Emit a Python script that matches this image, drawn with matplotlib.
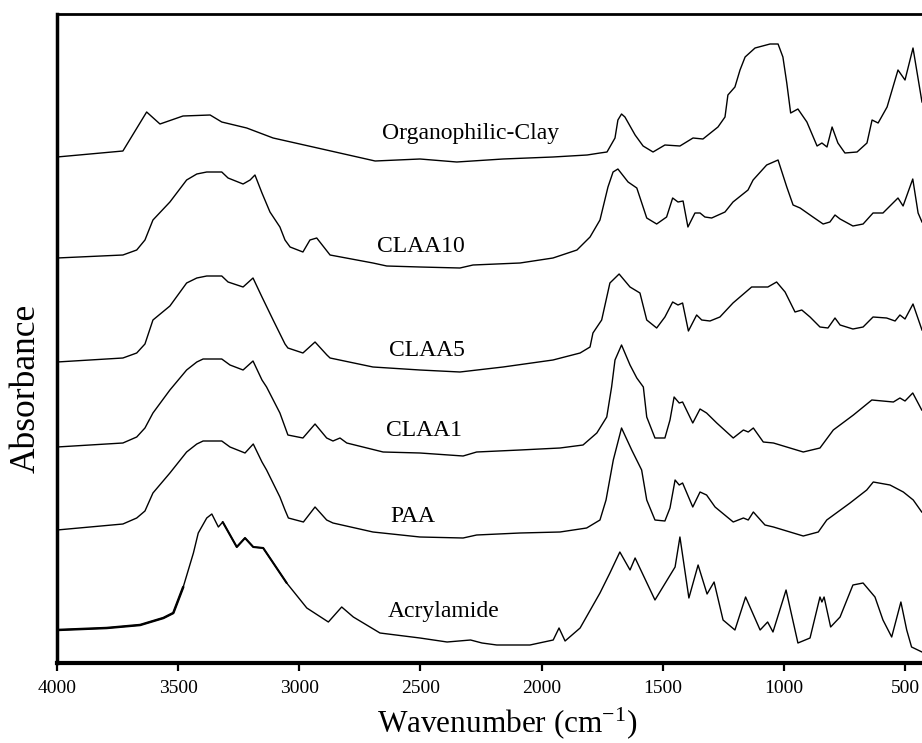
import matplotlib
matplotlib.use("Agg")
import matplotlib.pyplot as plt

plt.rcParams['font.family'] = ['Liberation Serif', 'DejaVu Serif']
plt.rcParams['mathtext.fontset'] = 'custom'
plt.rcParams['mathtext.rm'] = 'Liberation Serif'
plt.rcParams['mathtext.it'] = 'Liberation Serif:italic'

# ---------------- data (wavenumber cm^-1, absorbance a.u., stacked) ----------------
organo_wn = [4000, 3728, 3630, 3575, 3480, 3368, 3320, 3217, 3108, 2943, 2687, 2502, 2350, 2159,
             1953, 1812, 1759, 1730, 1697, 1685, 1670, 1656, 1614, 1581, 1540, 1491, 1429, 1375,
             1334, 1272, 1243, 1231, 1202, 1181, 1160, 1119, 1057, 1024, 1004, 988, 972, 942, 905,
             863, 843, 822, 801, 777, 748, 698, 657, 636, 611, 574, 529, 500, 467, 430]
organo_a = [5.06, 5.12, 5.51, 5.39, 5.47, 5.48, 5.41, 5.35, 5.25, 5.16, 5.02, 5.04, 5.01, 5.04,
            5.06, 5.08, 5.10, 5.11, 5.25, 5.43, 5.49, 5.46, 5.28, 5.17, 5.11, 5.18, 5.17, 5.25,
            5.24, 5.36, 5.46, 5.68, 5.76, 5.93, 6.06, 6.15, 6.19, 6.19, 6.06, 5.80, 5.50, 5.54, 5.41,
            5.17, 5.20, 5.16, 5.36, 5.20, 5.10, 5.11, 5.20, 5.43, 5.40, 5.56, 5.93, 5.83, 6.15, 5.61]

claa10_wn = [4000, 3728, 3671, 3637, 3604, 3534, 3465, 3423, 3382, 3320, 3294, 3232, 3203, 3183,
             3154, 3121, 3080, 3059, 3038, 2985, 2956, 2928, 2873, 2696, 2639, 2502, 2337, 2283,
             2089, 1953, 1854, 1800, 1759, 1726, 1705, 1685, 1643, 1607, 1566, 1525, 1484, 1459,
             1437, 1416, 1396, 1367, 1346, 1326, 1298, 1243, 1210, 1148, 1127, 1071, 1024, 988,
             962, 933, 880, 838, 810, 789, 768, 715, 673, 632, 591, 529, 508, 468, 446, 430]
claa10_a = [4.05, 4.08, 4.13, 4.23, 4.43, 4.61, 4.83, 4.89, 4.91, 4.91, 4.85, 4.79, 4.83, 4.88,
            4.70, 4.51, 4.36, 4.23, 4.16, 4.11, 4.23, 4.25, 4.08, 4.00, 3.97, 3.96, 3.95, 3.98,
            4.00, 4.05, 4.13, 4.26, 4.43, 4.76, 4.91, 4.94, 4.81, 4.75, 4.45, 4.39, 4.46, 4.65,
            4.61, 4.62, 4.36, 4.50, 4.50, 4.46, 4.45, 4.51, 4.61, 4.73, 4.83, 4.98, 5.03, 4.76,
            4.58, 4.55, 4.46, 4.39, 4.41, 4.48, 4.44, 4.37, 4.39, 4.50, 4.50, 4.65, 4.57, 4.84, 4.50, 4.41]

claa5_wn = [4000, 3728, 3671, 3637, 3604, 3534, 3465, 3423, 3382, 3320, 3294, 3232, 3191, 3154,
            3108, 3059, 3047, 2985, 2935, 2886, 2873, 2696, 2502, 2337, 2159, 1953, 1841, 1800,
            1788, 1752, 1718, 1680, 1635, 1594, 1566, 1525, 1491, 1459, 1437, 1418, 1394, 1360,
            1339, 1305, 1264, 1210, 1133, 1066, 1030, 995, 954, 926, 892, 851, 818, 789, 768, 715,
            673, 632, 576, 541, 521, 500, 467, 430]
claa5_a = [3.01, 3.05, 3.10, 3.19, 3.43, 3.57, 3.80, 3.85, 3.87, 3.87, 3.81, 3.76, 3.85, 3.66,
           3.43, 3.19, 3.15, 3.10, 3.21, 3.08, 3.05, 2.96, 2.93, 2.91, 2.96, 3.03, 3.10, 3.16,
           3.30, 3.43, 3.80, 3.89, 3.76, 3.70, 3.43, 3.35, 3.46, 3.61, 3.58, 3.60, 3.32, 3.48,
           3.43, 3.42, 3.46, 3.60, 3.76, 3.76, 3.81, 3.71, 3.51, 3.53, 3.46, 3.36, 3.35, 3.45, 3.38, 3.34,
           3.36, 3.46, 3.45, 3.42, 3.48, 3.44, 3.59, 3.33]

claa1_wn = [4000, 3728, 3671, 3637, 3604, 3534, 3465, 3423, 3397, 3320, 3286, 3232, 3191, 3154,
            3135, 3080, 3059, 3047, 2985, 2935, 2887, 2861, 2832, 2804, 2654, 2502, 2324, 2268,
            2089, 1924, 1829, 1772, 1731, 1711, 1697, 1670, 1635, 1607, 1580, 1566, 1532, 1491,
            1470, 1453, 1432, 1418, 1376, 1346, 1319, 1277, 1209, 1167, 1147, 1126, 1085, 1043,
            920, 851, 796, 713, 637, 548, 521, 500, 468, 431]
claa1_a = [2.16, 2.20, 2.26, 2.35, 2.50, 2.73, 2.93, 3.01, 3.04, 3.04, 2.98, 2.93, 3.02, 2.83,
           2.76, 2.50, 2.36, 2.28, 2.25, 2.39, 2.25, 2.22, 2.25, 2.20, 2.11, 2.10, 2.07, 2.11,
           2.13, 2.15, 2.18, 2.30, 2.46, 2.76, 3.03, 3.18, 2.98, 2.85, 2.76, 2.46, 2.25, 2.25,
           2.43, 2.66, 2.60, 2.61, 2.40, 2.54, 2.50, 2.40, 2.25, 2.33, 2.31, 2.35, 2.21, 2.20,
           2.11, 2.15, 2.33, 2.48, 2.63, 2.61, 2.65, 2.62, 2.70, 2.53]

paa_wn = [4000, 3728, 3671, 3637, 3604, 3534, 3465, 3423, 3397, 3320, 3286, 3224, 3190, 3154,
          3135, 3080, 3059, 3045, 2983, 2935, 2887, 2861, 2696, 2502, 2324, 2268, 2089, 1924,
          1814, 1759, 1734, 1704, 1670, 1628, 1587, 1566, 1532, 1491, 1470, 1449, 1432, 1418,
          1376, 1346, 1319, 1284, 1209, 1167, 1147, 1126, 1078, 1043, 920, 858, 823, 727, 658,
          631, 562, 507, 466, 431]
paa_a = [1.33, 1.39, 1.45, 1.52, 1.70, 1.90, 2.11, 2.19, 2.22, 2.22, 2.16, 2.10, 2.19, 2.01,
         1.93, 1.66, 1.53, 1.45, 1.41, 1.56, 1.43, 1.40, 1.31, 1.26, 1.25, 1.28, 1.30, 1.31,
         1.35, 1.43, 1.63, 2.03, 2.35, 2.13, 1.93, 1.63, 1.43, 1.42, 1.55, 1.83, 1.78, 1.80,
         1.56, 1.71, 1.68, 1.56, 1.41, 1.45, 1.43, 1.51, 1.38, 1.36, 1.27, 1.31, 1.43, 1.60, 1.73,
         1.81, 1.78, 1.71, 1.63, 1.51]

acryl_wn = [4000, 3795, 3657, 3561, 3520, 3479, 3437, 3417, 3382, 3361, 3334, 3316, 3258, 3224,
            3190, 3149, 3052, 2969, 2880, 2825, 2777, 2667, 2502, 2390, 2293, 2246, 2185, 2048,
            1952, 1928, 1903, 1841, 1759, 1718, 1677, 1635, 1614, 1532, 1449, 1429, 1392, 1354,
            1317, 1288, 1251, 1202, 1158, 1098, 1067, 1045, 991, 942, 892, 851, 843, 834, 807,
            768, 715, 673, 624, 591, 555, 517, 493, 473, 430]
acryl_a = [0.33, 0.35, 0.38, 0.45, 0.50, 0.76, 1.10, 1.30, 1.45, 1.49, 1.36, 1.41, 1.16, 1.25,
           1.16, 1.15, 0.80, 0.55, 0.41, 0.56, 0.46, 0.30, 0.25, 0.21, 0.23, 0.20, 0.18, 0.18,
           0.23, 0.35, 0.22, 0.35, 0.70, 0.90, 1.11, 0.93, 1.05, 0.63, 0.96, 1.26, 0.65, 0.98,
           0.69, 0.81, 0.43, 0.33, 0.66, 0.33, 0.41, 0.31, 0.73, 0.20, 0.25, 0.66, 0.61, 0.66, 0.36,
           0.46, 0.78, 0.80, 0.66, 0.43, 0.26, 0.61, 0.33, 0.16, 0.11]

labels = ["Organophilic-Clay", "CLAA10", "CLAA5", "CLAA1", "PAA", "Acrylamide"]
label_wn = [2295, 2498, 2473, 2485, 2531, 2403]
label_a = [5.30, 4.17, 3.12, 2.33, 1.46, 0.51]

xticks = [4000, 3500, 3000, 2500, 2000, 1500, 1000, 500]

# ---------------- figure ----------------
W, H = 922, 743
fig = plt.figure(figsize=(W / 100, H / 100), dpi=100)
ax_left = 57 / W
ax_bottom = (H - 663) / H
ax_top = (H - 14) / H
ax_w = (922 - 57) / W
ax = fig.add_axes([ax_left, ax_bottom, ax_w, ax_top - ax_bottom])

series = [(organo_wn, organo_a), (claa10_wn, claa10_a), (claa5_wn, claa5_a),
          (claa1_wn, claa1_a), (paa_wn, paa_a), (acryl_wn, acryl_a)]
for wn, a in series:
    ax.plot(wn, a, color='black', lw=1.0, solid_joinstyle='round')

# the noisy (heavier-looking) stretches of the acrylamide trace
ax.plot(acryl_wn[:6], acryl_a[:6], color='black', lw=1.8, solid_capstyle='round')
ax.plot(acryl_wn[11:17], acryl_a[11:17], color='black', lw=1.5, solid_capstyle='round')

for lab, lx, ly in zip(labels, label_wn, label_a):
    ax.text(lx, ly, lab, ha='center', va='center', fontsize=17, color='black')

ax.set_xlim(4000, 4000 - 865 / 0.24229)
ax.set_ylim(0, 6.49)
ax.set_xticks(xticks)
ax.set_xticklabels([str(t) for t in xticks], fontsize=14)
ax.set_yticks([])
ax.tick_params(axis='x', direction='out', length=6, width=1.6, pad=6)

ax.spines['right'].set_visible(False)
ax.spines['left'].set_linewidth(2.5)
ax.spines['bottom'].set_linewidth(3.0)
ax.spines['top'].set_linewidth(2.0)

fig.text(507 / W, (H - 723) / H, r'Wavenumber (cm$^{\mathregular{-1}}$)',
         fontsize=22.5, ha='center', va='center')
fig.text(26 / W, (H - 388) / H, 'Absorbance', fontsize=25.5, rotation=90,
         ha='center', va='center')

fig.savefig('out.png', dpi=100)
